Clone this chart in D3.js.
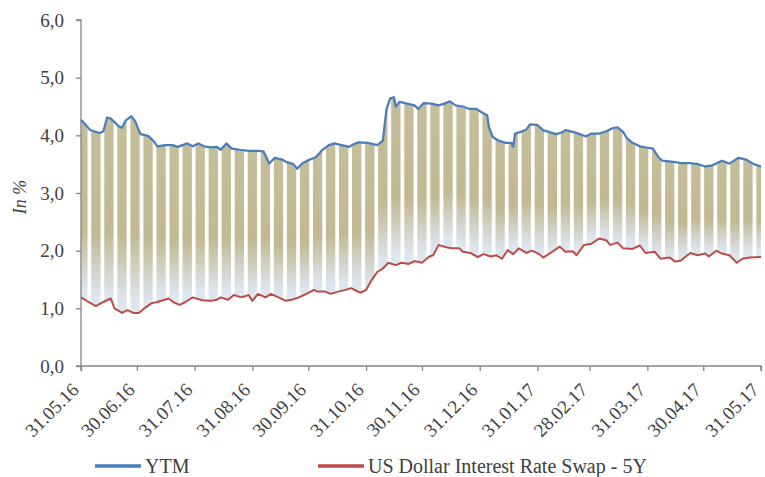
<!DOCTYPE html>
<html>
<head>
<meta charset="utf-8">
<script src="https://cdn.jsdelivr.net/npm/d3@7"></script>
<style>
  body { margin: 0; background: #fff; }
  text { font-family: "Liberation Serif", "Times New Roman", serif; fill: #404040; }
</style>
</head>
<body>
<div id="chart"></div>
<script>
// YTM (about every 3 days)
const ytmDates = [
  "2016-05-31","2016-06-02","2016-06-05","2016-06-07","2016-06-10","2016-06-12","2016-06-14","2016-06-16",
  "2016-06-18","2016-06-20","2016-06-22","2016-06-24","2016-06-27","2016-06-29","2016-07-01","2016-07-02",
  "2016-07-06","2016-07-09","2016-07-11","2016-07-15","2016-07-19","2016-07-22","2016-07-27","2016-07-30",
  "2016-08-02","2016-08-05","2016-08-09","2016-08-12","2016-08-14","2016-08-17","2016-08-20","2016-08-24",
  "2016-08-29","2016-09-03","2016-09-06","2016-09-09","2016-09-12","2016-09-16","2016-09-18","2016-09-22",
  "2016-09-24","2016-09-27","2016-09-30","2016-10-04","2016-10-07","2016-10-11","2016-10-14","2016-10-18",
  "2016-10-22","2016-10-24","2016-10-27","2016-11-01","2016-11-06","2016-11-09","2016-11-11","2016-11-13",
  "2016-11-15","2016-11-16","2016-11-18","2016-11-22","2016-11-26","2016-11-28","2016-12-01","2016-12-05",
  "2016-12-09","2016-12-12","2016-12-15","2016-12-18","2016-12-22","2016-12-25","2016-12-29","2017-01-01",
  "2017-01-04","2017-01-05","2017-01-07","2017-01-10","2017-01-14","2017-01-17","2017-01-18","2017-01-19",
  "2017-01-22","2017-01-25","2017-01-27","2017-01-31","2017-02-03","2017-02-06","2017-02-10","2017-02-13",
  "2017-02-15","2017-02-19","2017-02-22","2017-02-26","2017-03-01","2017-03-05","2017-03-09","2017-03-12",
  "2017-03-15","2017-03-18","2017-03-20","2017-03-23","2017-03-27","2017-03-30","2017-04-03","2017-04-06",
  "2017-04-08","2017-04-14","2017-04-18","2017-04-23","2017-04-27","2017-05-01","2017-05-05","2017-05-10",
  "2017-05-14","2017-05-19","2017-05-23","2017-05-27","2017-05-31"
];
const ytmValues = [
  4.27,4.20,4.09,4.07,4.04,4.07,4.31,4.29,
  4.23,4.16,4.13,4.26,4.33,4.25,4.09,4.02,
  3.99,3.90,3.81,3.83,3.83,3.80,3.86,3.81,
  3.86,3.81,3.79,3.80,3.75,3.86,3.77,3.75,
  3.73,3.73,3.72,3.51,3.61,3.58,3.54,3.50,
  3.42,3.52,3.57,3.62,3.73,3.83,3.86,3.83,
  3.80,3.84,3.88,3.87,3.83,3.91,4.46,4.64,
  4.66,4.50,4.58,4.55,4.52,4.46,4.56,4.55,
  4.52,4.55,4.59,4.52,4.50,4.46,4.46,4.40,
  4.35,4.14,3.97,3.91,3.87,3.87,3.80,4.03,
  4.06,4.10,4.19,4.18,4.09,4.06,4.02,4.05,
  4.09,4.06,4.03,3.98,4.03,4.03,4.07,4.12,
  4.14,4.06,3.95,3.87,3.81,3.79,3.77,3.62,
  3.56,3.54,3.52,3.52,3.50,3.46,3.48,3.56,
  3.51,3.61,3.58,3.50,3.46
];

// US Dollar Interest Rate Swap - 5Y
const swapDates = [
  "2016-05-31","2016-06-04","2016-06-08","2016-06-12","2016-06-16","2016-06-18","2016-06-22","2016-06-25",
  "2016-06-28","2016-07-01","2016-07-04","2016-07-08","2016-07-11","2016-07-17","2016-07-20","2016-07-23",
  "2016-07-26","2016-07-30","2016-08-04","2016-08-09","2016-08-12","2016-08-14","2016-08-18","2016-08-21",
  "2016-08-25","2016-08-29","2016-08-31","2016-09-03","2016-09-07","2016-09-10","2016-09-14","2016-09-18",
  "2016-09-21","2016-09-25","2016-09-29","2016-10-03","2016-10-05","2016-10-09","2016-10-12","2016-10-16",
  "2016-10-20","2016-10-23","2016-10-28","2016-10-31","2016-11-03","2016-11-06","2016-11-09","2016-11-12",
  "2016-11-16","2016-11-19","2016-11-23","2016-11-26","2016-11-30","2016-12-04","2016-12-06","2016-12-09",
  "2016-12-13","2016-12-16","2016-12-20","2016-12-22","2016-12-26","2016-12-30","2017-01-02","2017-01-06",
  "2017-01-09","2017-01-12","2017-01-15","2017-01-18","2017-01-21","2017-01-25","2017-01-28","2017-02-01",
  "2017-02-03","2017-02-07","2017-02-12","2017-02-15","2017-02-19","2017-02-21","2017-02-25","2017-03-01",
  "2017-03-05","2017-03-09","2017-03-11","2017-03-15","2017-03-18","2017-03-23","2017-03-27","2017-03-30",
  "2017-04-04","2017-04-07","2017-04-12","2017-04-15","2017-04-18","2017-04-23","2017-04-27","2017-05-01",
  "2017-05-03","2017-05-07","2017-05-10","2017-05-14","2017-05-18","2017-05-21","2017-05-25","2017-05-31"
];
const swapValues = [
  1.19,1.11,1.04,1.11,1.17,1.00,0.92,0.97,
  0.92,0.92,1.00,1.09,1.11,1.17,1.10,1.06,
  1.11,1.19,1.14,1.13,1.15,1.19,1.15,1.23,
  1.19,1.23,1.13,1.25,1.19,1.25,1.19,1.13,
  1.15,1.19,1.25,1.32,1.29,1.29,1.25,1.29,
  1.32,1.35,1.27,1.32,1.49,1.63,1.69,1.79,
  1.75,1.79,1.77,1.82,1.79,1.90,1.92,2.10,
  2.06,2.04,2.04,1.98,1.96,1.89,1.94,1.90,
  1.92,1.86,2.01,1.94,2.04,1.96,2.00,1.94,
  1.88,1.96,2.07,1.98,1.99,1.92,2.10,2.12,
  2.21,2.18,2.10,2.14,2.04,2.03,2.09,1.96,
  1.98,1.86,1.88,1.81,1.83,1.96,1.92,1.95,
  1.90,2.00,1.95,1.92,1.79,1.86,1.88,1.89
];

const tickLabels = ["31.05.16","30.06.16","31.07.16","31.08.16","30.09.16","31.10.16","30.11.16",
  "31.12.16","31.01.17","28.02.17","31.03.17","30.04.17","31.05.17"];
const yTicks = [0, 1, 2, 3, 4, 5, 6];
const seriesNames = ["YTM", "US Dollar Interest Rate Swap - 5Y"];
const seriesColors = ["#4a7ebb", "#be4b48"];

const width = 765, height = 477;
const plotLeft = 81, plotRight = 761, plotTop = 20, plotBottom = 366;

const parseIso = d3.utcParse("%Y-%m-%d");
const parseTick = d3.utcParse("%d.%m.%y");
const comma = d3.formatLocale({decimal: ",", thousands: " ", grouping: [3], currency: ["", ""]}).format(".1f");

const ytm = ytmDates.map((d, i) => ({date: parseIso(d), value: ytmValues[i]}));
const swap = swapDates.map((d, i) => ({date: parseIso(d), value: swapValues[i]}));
const start = ytm[0].date, end = ytm[ytm.length - 1].date;

const x = d3.scaleUtc().domain([start, end]).range([plotLeft, plotRight]);
const y = d3.scaleLinear().domain([0, 6]).range([plotBottom, plotTop]);

const svg = d3.select('#chart').append('svg')
  .attr('width', width)
  .attr('height', height);

const defs = svg.append('defs');
const grad = defs.append('linearGradient')
  .attr('id', 'barFill')
  .attr('x1', 0).attr('y1', 0).attr('x2', 0).attr('y2', 1);
[[0, '#c5be9a'], [0.6, '#c2b992'], [0.93, '#dde5ef'], [1, '#dfe7f1']].forEach(s => {
  grad.append('stop').attr('offset', s[0]).attr('stop-color', s[1]);
});

const line = d3.line().x(d => x(d.date)).y(d => y(d.value));

// band between the two series, used as clip for the weekly bars
const bandPath = line(ytm) + line(swap.slice().reverse()).replace(/^M/, 'L') + 'Z';
defs.append('clipPath').attr('id', 'band').append('path').attr('d', bandPath);

// one bar per trading week (Mon-Fri), weekends left white
const day = 864e5;
const mondays = d3.utcMonday.range(d3.utcDay.offset(start, -7), d3.utcDay.offset(end, 1));
const weeks = mondays.map(m => {
  const lo = new Date(+m - 3 * day), hi = new Date(+m + 7 * day);
  const tops = ytm.filter(d => d.date >= lo && d.date <= hi).map(d => d.value);
  const bots = swap.filter(d => d.date >= lo && d.date <= hi).map(d => d.value);
  return {
    x0: Math.max(plotLeft, x(new Date(+m - day / 2))),
    x1: Math.min(plotRight, x(new Date(+m + 4.5 * day))),
    hi: d3.max(tops), lo: d3.min(bots)
  };
}).filter(w => w.x1 > w.x0);

svg.append('g')
  .attr('clip-path', 'url(#band)')
  .selectAll('rect')
  .data(weeks)
  .enter()
  .append('rect')
  .attr('x', d => d.x0)
  .attr('width', d => d.x1 - d.x0)
  .attr('y', d => y(d.hi) - 1)
  .attr('height', d => y(d.lo) - y(d.hi) + 2)
  .attr('fill', 'url(#barFill)');

// axes
const yAxis = svg.append('g')
  .attr('transform', `translate(${plotLeft},0)`)
  .call(d3.axisLeft(y).tickValues(yTicks).tickSize(5).tickPadding(12).tickFormat(comma));
const xAxis = svg.append('g')
  .attr('transform', `translate(0,${plotBottom})`)
  .call(d3.axisBottom(x).tickValues(tickLabels.map(parseTick)).tickSize(5).tickFormat(''));
[yAxis, xAxis].forEach(g => {
  g.select('.domain').attr('stroke', '#868686').attr('stroke-width', 1.3);
  g.selectAll('.tick line').attr('stroke', '#868686').attr('stroke-width', 1.3);
});
yAxis.select('.domain').attr('d', `M-5,${plotBottom}H0V${plotTop}H-5`);
xAxis.select('.domain').attr('d', `M${plotLeft},5V0H${plotRight}V5`);
yAxis.selectAll('.tick text').style('font-size', '19px').attr('fill', '#404040');

svg.append('g').selectAll('text')
  .data(tickLabels)
  .enter()
  .append('text')
  .attr('text-anchor', 'end')
  .attr('transform', d => `translate(${x(parseTick(d)) - 1},${plotBottom + 25}) rotate(-45)`)
  .style('font-size', '19px')
  .text(d => d);

svg.append('text')
  .attr('transform', `translate(26,197) rotate(-90)`)
  .attr('text-anchor', 'middle')
  .style('font-size', '18px')
  .style('font-style', 'italic')
  .text('In %');

// series lines
svg.append('path').datum(ytm)
  .attr('fill', 'none').attr('stroke', seriesColors[0]).attr('stroke-width', 2.25)
  .attr('stroke-linejoin', 'round').attr('d', line);
svg.append('path').datum(swap)
  .attr('fill', 'none').attr('stroke', seriesColors[1]).attr('stroke-width', 2)
  .attr('stroke-linejoin', 'round').attr('d', line);

// legend
const legendX = [95, 318];
const legend = svg.append('g').selectAll('g')
  .data(seriesNames)
  .enter()
  .append('g')
  .attr('transform', (d, i) => `translate(${legendX[i]},466)`);
legend.append('line')
  .attr('x2', 46)
  .attr('stroke', (d, i) => seriesColors[i])
  .attr('stroke-width', 3.5);
legend.append('text')
  .attr('x', 50)
  .attr('y', 7)
  .style('font-size', '20px')
  .text(d => d);
</script>
</body>
</html>
